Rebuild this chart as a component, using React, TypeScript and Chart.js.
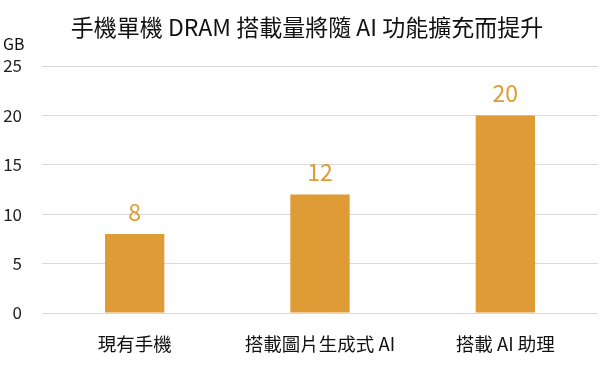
import React, { useEffect, useRef } from "react";
import { Chart, registerables } from "chart.js";

Chart.register(...registerables);

const categories = ["現有手機", "搭載圖片生成式 AI", "搭載 AI 助理"];
const dramGB = [8, 12, 20];
const titleText = "手機單機 DRAM 搭載量將隨 AI 功能擴充而提升";
const unitText = "GB";

const FONT = '"Noto Sans CJK TC", "Noto Sans", sans-serif';
const ORANGE = "#DF9B35";

const overlayPlugin = {
  id: "overlay",
  afterDatasetsDraw(chart: any) {
    const ctx = chart.ctx;
    ctx.save();
    const meta = chart.getDatasetMeta(0);
    ctx.fillStyle = ORANGE;
    ctx.font = `23px ${FONT}`;
    ctx.textAlign = "center";
    ctx.textBaseline = "middle";
    meta.data.forEach((bar: any, i: number) => {
      ctx.fillText(String(dramGB[i]), bar.x, bar.y - 22);
    });
    ctx.fillStyle = "#111";
    ctx.font = `23px ${FONT}`;
    ctx.fillText(titleText, 307, 27);
    ctx.font = `16px ${FONT}`;
    ctx.textAlign = "left";
    ctx.fillText(unitText, 3, 44);
    ctx.restore();
  },
};

export default function App() {
  const ref = useRef<HTMLCanvasElement>(null);
  useEffect(() => {
    document.body.style.margin = "0";
    const chart = new Chart(ref.current!, {
      type: "bar",
      data: {
        labels: categories,
        datasets: [
          {
            data: dramGB,
            backgroundColor: ORANGE,
            barPercentage: 0.4,
            categoryPercentage: 0.8,
          },
        ],
      },
      options: {
        animation: false,
        responsive: false,
        layout: { padding: { top: 66, left: 4, right: 10, bottom: 13 } },
        plugins: { legend: { display: false }, tooltip: { enabled: false } },
        scales: {
          y: {
            min: 0,
            max: 25,
            afterFit(scale: any) {
              scale.width = 38;
            },
            ticks: { stepSize: 5, padding: 20, color: "#222", font: { family: FONT, size: 17 } },
            grid: { color: "#d9d9d9", drawTicks: false },
            border: { display: false },
          },
          x: {
            afterFit(scale: any) {
              scale.height = 40;
            },
            ticks: { padding: 20, color: "#111", font: { family: FONT, size: 18.5 } },
            grid: { display: false, drawTicks: false },
            border: { display: false },
          },
        },
      },
      plugins: [overlayPlugin],
    });
    return () => chart.destroy();
  }, []);
  return (
    <div style={{ position: "absolute", left: 0, top: 0, width: 608, height: 366 }}>
      <canvas ref={ref} width={608} height={366} style={{ width: 608, height: 366 }} />
    </div>
  );
}
